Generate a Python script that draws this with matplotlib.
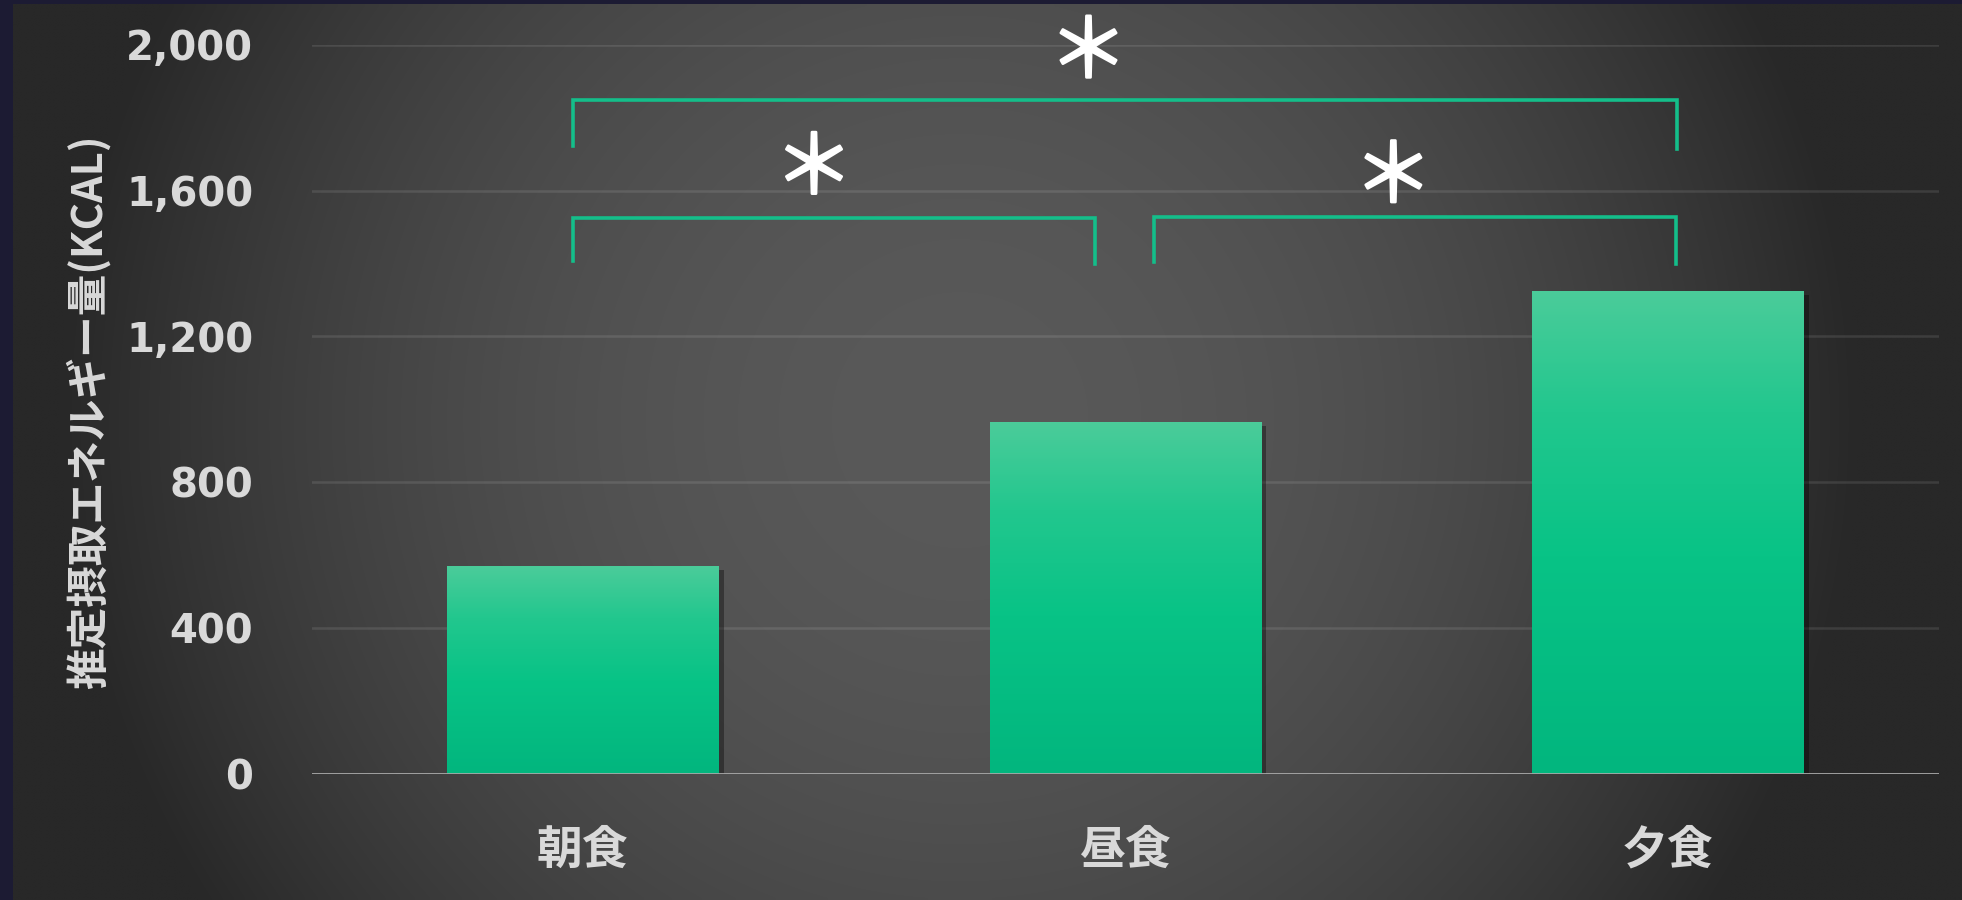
import numpy as np
import matplotlib
matplotlib.use("Agg")
import matplotlib.pyplot as plt
from matplotlib.colors import LinearSegmentedColormap
import matplotlib.patheffects as pe
import matplotlib.transforms as mtransforms

# ---------------- data ----------------
categories = ["朝食", "昼食", "夕食"]
energy_kcal = [570, 965, 1325]
y_ticks = [0, 400, 800, 1200, 1600, 2000]
y_tick_labels = ["0", "400", "800", "1,200", "1,600", "2,000"]
y_label = "推定摂取エネルギー量(KCAL)"

# significance brackets: (left category, right category)
comparisons = [(0, 2), (0, 1), (1, 2)]
sig_marks = ["＊", "＊", "＊"]
bracket_tops = [1848, 1525, 1526]
bracket_left_bottoms = [1721, 1406, 1403]
bracket_right_bottoms = [1713, 1399, 1399]
bracket_x_offsets = [(-0.018, 0.017), (-0.018, -0.056), (0.053, 0.015)]
mark_x = [0.932, 0.426, 1.494]
mark_y = [2013, 1694, 1671]

# ---------------- style ----------------
W, H, DPI = 1962, 900, 100
border_col = "#1c1b33"
text_col = "#d9d9d9"
green_line = "#14be8a"
cjk = ["Noto Sans CJK JP", "DejaVu Sans"]

fig = plt.figure(figsize=(W / DPI, H / DPI), dpi=DPI, facecolor=border_col)

# background panel with radial gradient
bl, bt = 13 / W, 4 / H
bg = fig.add_axes([bl, 0, 1 - bl, 1 - bt], zorder=0)
bg.set_axis_off()
xx, yy = np.meshgrid(np.linspace(13, W, 400), np.linspace(4, H, 200))
t = ((xx - 960) / 900) ** 2 + ((yy - 420) / 900) ** 2
t = np.clip(t, 0, 1)
c_in, c_out = 0x59 / 255, 0x28 / 255
val = c_in + (c_out - c_in) * t
bg.imshow(np.dstack([val, val, val]), aspect="auto", extent=(0, 1, 0, 1),
          interpolation="bilinear")
bg.set_xlim(0, 1)
bg.set_ylim(0, 1)

# main axes
x0, x1 = 311.6 / W, 1939 / W
y0, y1 = 1 - 773.8 / H, 1 - 44.7 / H
ax = fig.add_axes([x0, y0, x1 - x0, y1 - y0], zorder=2)
ax.set_facecolor("none")
for s in ax.spines.values():
    s.set_visible(False)

# gridlines
ax.set_yticks(y_ticks)
ax.set_yticklabels(y_tick_labels, fontsize=29, fontweight="bold",
                   color=text_col, family="DejaVu Sans")
ax.tick_params(axis="y", length=0, pad=42)
ax.yaxis.grid(True, color="white", alpha=0.10, linewidth=1.8)
ax.set_axisbelow(True)

# bars with vertical gradient
bar_cmap = LinearSegmentedColormap.from_list(
    "bar", [(0.0, "#02b67e"), (0.45, "#08c386"), (0.75, "#22c78e"), (1.0, "#4bcc9a")])
grad = np.linspace(0, 1, 256).reshape(-1, 1)
bars = ax.bar(range(len(categories)), energy_kcal, width=0.5,
              color="#08c386", zorder=3,
              path_effects=[pe.SimplePatchShadow(offset=(4, -3), alpha=0.35,
                                                 shadow_rgbFace="black"),
                            pe.Normal()])
for b in bars:
    bx, bw, bh = b.get_x(), b.get_width(), b.get_height()
    im = ax.imshow(grad, cmap=bar_cmap, aspect="auto", origin="lower",
                   extent=(bx, bx + bw, 0, bh), zorder=4, interpolation="bilinear")
    im.set_clip_path(b)
ax.set_xlim(-0.5, len(categories) - 0.5)
ax.set_ylim(0, 2000)

# zero line
ax.axhline(0, color="#a8a8a8", linewidth=2.0, zorder=5)

# x tick labels
ax.set_xticks(range(len(categories)))
ax.set_xticklabels(categories, fontsize=33, fontweight="bold", color=text_col,
                   family=cjk)
ax.tick_params(axis="x", length=0, pad=39)

# y label
fig.text(88 / W, 1 - 411.5 / H, y_label, rotation=90, ha="center", va="center",
         fontsize=30, fontweight="bold", color=text_col, family=cjk)

# significance brackets
mark_shift = mtransforms.ScaledTranslation(0, -14 / DPI, fig.dpi_scale_trans)
for k, (i, j) in enumerate(comparisons):
    lx = i + bracket_x_offsets[k][0]
    rx = j + bracket_x_offsets[k][1]
    ax.plot([lx, lx, rx, rx],
            [bracket_left_bottoms[k], bracket_tops[k], bracket_tops[k],
             bracket_right_bottoms[k]],
            color=green_line, linewidth=2.6, clip_on=False, zorder=6,
            solid_joinstyle="miter")
    ax.text(mark_x[k], mark_y[k], sig_marks[k], ha="center", va="center",
            fontsize=58, fontweight="normal", color="white", family=cjk,
            clip_on=False, zorder=7, transform=ax.transData + mark_shift,
            path_effects=[pe.withStroke(linewidth=1.8, foreground="white")])

fig.savefig("out.png", dpi=DPI, facecolor=fig.get_facecolor())
